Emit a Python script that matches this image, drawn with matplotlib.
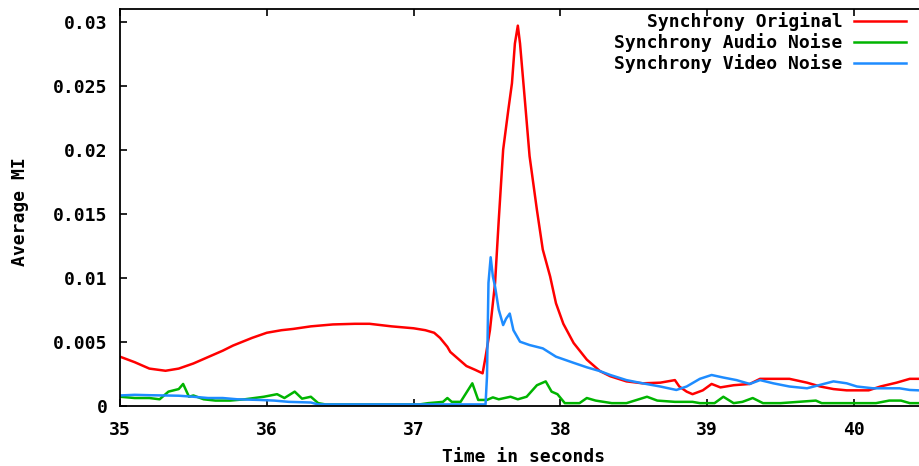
import numpy as np
import matplotlib
matplotlib.use("Agg")
import matplotlib.pyplot as plt

# values (time in s, average MI)
t_orig = [35.00, 35.10, 35.20, 35.31, 35.40, 35.50, 35.60, 35.70, 35.77, 35.90,
          36.00, 36.10, 36.18, 36.30, 36.45, 36.60, 36.70, 36.85, 37.00, 37.08,
          37.14, 37.18, 37.23, 37.25, 37.30, 37.36, 37.42, 37.47, 37.49, 37.52,
          37.555, 37.58, 37.61, 37.645, 37.67, 37.69, 37.71, 37.725, 37.76, 37.79,
          37.84, 37.88, 37.93, 37.97, 38.02, 38.09, 38.18, 38.27, 38.34, 38.45,
          38.56, 38.68, 38.78, 38.81, 38.86, 38.90, 38.97, 39.03, 39.09, 39.18,
          39.29, 39.36, 39.50, 39.56, 39.68, 39.77, 39.86, 39.95, 40.10, 40.18,
          40.29, 40.38, 40.44]
mi_orig = [0.00383, 0.0034, 0.0029, 0.00273, 0.0029, 0.0033, 0.0038, 0.0043, 0.0047, 0.0053,
           0.0057, 0.0059, 0.0060, 0.0062, 0.00635, 0.0064, 0.0064, 0.0062, 0.00605, 0.0059,
           0.0057, 0.0053, 0.0046, 0.0042, 0.0037, 0.0031, 0.0028, 0.00253, 0.0038, 0.0059,
           0.0096, 0.0145, 0.0200, 0.0231, 0.0252, 0.0283, 0.0297, 0.0283, 0.0236, 0.0195,
           0.0153, 0.0122, 0.0101, 0.0080, 0.0064, 0.0049, 0.0036, 0.0027, 0.0023, 0.0019,
           0.00175, 0.0018, 0.0020, 0.0015, 0.0011, 0.0009, 0.0012, 0.0017, 0.00143, 0.0016,
           0.0017, 0.0021, 0.0021, 0.0021, 0.0018, 0.0015, 0.0013, 0.0012, 0.0012, 0.0015,
           0.0018, 0.0021, 0.0021]

t_audio = [35.00, 35.10, 35.20, 35.27, 35.33, 35.40, 35.43, 35.47, 35.50, 35.57,
           35.65, 35.75, 35.85, 35.98, 36.07, 36.12, 36.19, 36.24, 36.30, 36.35,
           36.40, 36.60, 36.80, 37.04, 37.10, 37.20, 37.23, 37.26, 37.32, 37.40,
           37.44, 37.50, 37.54, 37.58, 37.66, 37.71, 37.77, 37.84, 37.90, 37.94,
           37.98, 38.03, 38.13, 38.18, 38.24, 38.35, 38.45, 38.59, 38.66, 38.78,
           38.90, 38.95, 39.05, 39.11, 39.18, 39.24, 39.31, 39.38, 39.50, 39.74,
           39.78, 39.95, 40.15, 40.24, 40.32, 40.38, 40.44]
mi_audio = [0.0007, 0.0006, 0.0006, 0.0005, 0.0011, 0.0013, 0.0017, 0.0007, 0.0008, 0.0005,
            0.0004, 0.0004, 0.0005, 0.0007, 0.0009, 0.0006, 0.0011, 0.00055, 0.0007, 0.0002,
            0.0001, 0.0001, 0.0001, 0.0001, 0.0002, 0.0003, 0.0006, 0.0003, 0.0003, 0.00175,
            0.00045, 0.00045, 0.00065, 0.0005, 0.0007, 0.0005, 0.0007, 0.0016, 0.0019, 0.0011,
            0.0009, 0.0002, 0.0002, 0.0006, 0.0004, 0.0002, 0.0002, 0.0007, 0.0004, 0.0003,
            0.0003, 0.0002, 0.0002, 0.0007, 0.0002, 0.0003, 0.0006, 0.0002, 0.0002, 0.0004,
            0.0002, 0.0002, 0.0002, 0.0004, 0.0004, 0.0002, 0.0002]

t_video = [35.00, 35.10, 35.20, 35.30, 35.40, 35.50, 35.60, 35.70, 35.80, 35.95,
           36.05, 36.15, 36.30, 36.35, 36.80, 37.20, 37.49, 37.50, 37.51, 37.525,
           37.54, 37.555, 37.58, 37.61, 37.63, 37.655, 37.68, 37.725, 37.79, 37.88,
           37.97, 38.09, 38.18, 38.27, 38.34, 38.45, 38.56, 38.68, 38.79, 38.86,
           38.95, 39.03, 39.11, 39.20, 39.29, 39.36, 39.45, 39.56, 39.68, 39.74,
           39.86, 39.95, 40.02, 40.13, 40.31, 40.38, 40.44]
mi_video = [0.0008, 0.00085, 0.00082, 0.0008, 0.00078, 0.0007, 0.0006, 0.0006, 0.0005, 0.00045,
            0.0004, 0.0003, 0.00025, 0.0001, 0.0001, 0.0001, 0.0001, 0.0023, 0.0096, 0.0116,
            0.0101, 0.0093, 0.0075, 0.0063, 0.0068, 0.0072, 0.0059, 0.0050, 0.00474, 0.00448,
            0.00383, 0.00335, 0.0030, 0.0027, 0.0024, 0.0020, 0.00175, 0.0015, 0.00123, 0.0015,
            0.0021, 0.0024, 0.0022, 0.0020, 0.0017, 0.0020, 0.00175, 0.0015, 0.00136, 0.00154,
            0.0019, 0.00175, 0.0015, 0.00136, 0.00136, 0.00123, 0.0012]

x_ticks = [35, 36, 37, 38, 39, 40]
y_ticks = [0, 0.005, 0.01, 0.015, 0.02, 0.025, 0.03]
y_ticklabels = ["0", "0.005", "0.01", "0.015", "0.02", "0.025", "0.03"]

plt.rcParams['font.family'] = ['DejaVu Sans Mono']
plt.rcParams['font.weight'] = 'bold'
plt.rcParams['font.size'] = 13

fig = plt.figure(figsize=(9.19, 4.66), dpi=100)
ax = fig.add_axes([120/919, 60.3/466, 799/919, 396.7/466])

ax.plot(t_orig, mi_orig, color='#ff0000', lw=1.8, label="Synchrony Original")
ax.plot(t_audio, mi_audio, color='#00b400', lw=1.8, label="Synchrony Audio Noise")
ax.plot(t_video, mi_video, color='#1e8cff', lw=1.8, label="Synchrony Video Noise")

ax.set_xlim(35, 35 + 799/146.8)
ax.set_ylim(0, 0.031)
ax.set_xticks(x_ticks)
ax.set_xticklabels([str(v) for v in x_ticks])
ax.set_yticks(y_ticks)
ax.set_yticklabels(y_ticklabels)
ax.tick_params(direction='in', length=5, width=1.2, top=True, right=False)
ax.tick_params(axis='x', pad=11)
ax.tick_params(axis='y', pad=9)
ax.spines['right'].set_visible(False)
for s in ['left', 'top', 'bottom']:
    ax.spines[s].set_linewidth(1.3)

ax.set_xlabel("Time in seconds", fontweight='bold', va='top')
ax.xaxis.set_label_coords((523.5-120)/799, -(448-405.7)/396.7)
ax.set_ylabel("Average MI", fontweight='bold')
ax.yaxis.set_label_coords((29-120)/799, 0.49)

leg = ax.legend(loc='upper right', bbox_to_anchor=(906/919, 1 - 12/466),
                bbox_transform=fig.transFigure, frameon=False, markerfirst=False,
                handlelength=2.9, handletextpad=0.6, labelspacing=0.12,
                borderpad=0, borderaxespad=0)

fig.savefig("out.png", dpi=100)
